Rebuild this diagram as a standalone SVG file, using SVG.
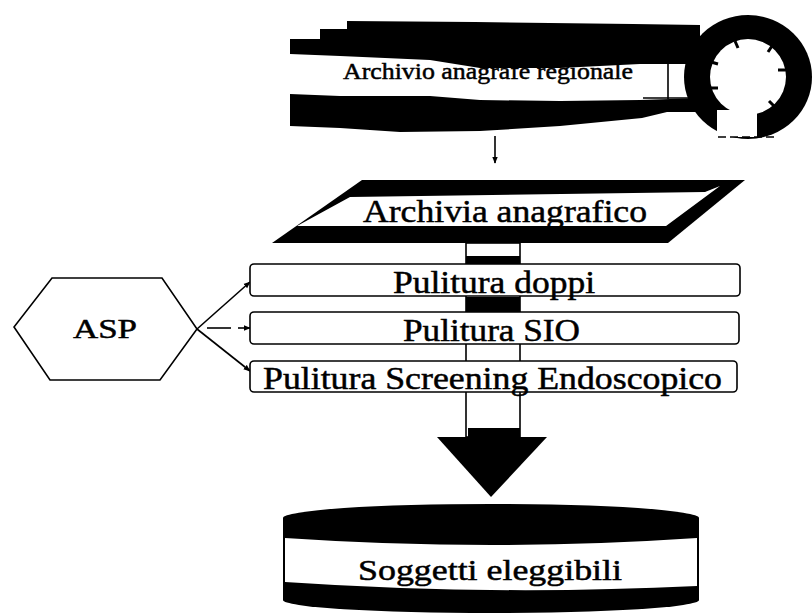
<svg xmlns="http://www.w3.org/2000/svg" width="812" height="614" viewBox="0 0 812 614">
  <style>
    .ink { fill: #000; }
    .paper { fill: #fff; }
    .outline { fill: #fff; stroke: #000; stroke-width: 1.6; }
    .line { fill: none; stroke: #000; stroke-width: 1.6; }
    .label { font-family: "Liberation Serif", "Times New Roman", serif; fill: #000; stroke: #000; stroke-width: 0.5; }
  </style>
  <defs>
    <marker id="tip" viewBox="0 0 10 10" refX="9" refY="5" markerWidth="7" markerHeight="7" orient="auto" markerUnits="userSpaceOnUse">
      <path d="M0,1 L10,5 L0,9 Z" fill="#000"/>
    </marker>
  </defs>
  <rect width="812" height="614" fill="#fff"/>

  <!-- Connectors -->
  <g id="connectors">
    <!-- source archive down to the registry -->
    <line class="line" x1="495" y1="136" x2="495" y2="163" marker-end="url(#tip)"/>
    <!-- ASP feeding the three cleaning steps -->
    <line class="line" x1="197" y1="329" x2="250" y2="282" marker-end="url(#tip)"/>
    <line class="line" x1="207" y1="328" x2="231" y2="328"/>
    <line class="line" x1="238" y1="328" x2="250" y2="328" marker-end="url(#tip)"/>
    <line class="line" x1="197" y1="329" x2="250" y2="371" marker-end="url(#tip)"/>
    <!-- broad flow arrow from the registry to the eligible subjects -->
    <g id="flow-arrow">
      <rect class="outline" x="466" y="243" width="54" height="194"/>
      <rect class="ink" x="466" y="256" width="54" height="8"/>
      <rect class="ink" x="466" y="297" width="54" height="15"/>
      <rect class="ink" x="468" y="428" width="52" height="9"/>
      <path class="ink" d="M437,437 L547,437 L491,497 Z"/>
    </g>
  </g>

  <!-- Regional archive: drum-like storage symbol -->
  <g id="archivio-regionale">
    <path class="ink" d="M290,39 L320,39 L320,29 L347,29 L347,21 L475,22 L633,24 L700,25 L700,112 L667,112 L642,118 L560,126 L480,131 L400,132 L340,128 L290,126 Z"/>
    <path class="paper" d="M290,54 L340,56 L430,60 L480,68 L560,68 L640,64 L700,64 L700,98 L640,100 L560,101 L480,100 L430,96 L340,96 L290,94 Z"/>
    <line class="line" x1="668" y1="64" x2="668" y2="99" stroke-width="2"/>
    <line class="line" x1="643" y1="98" x2="700" y2="98" stroke-width="2"/>
    <ellipse class="ink" cx="748" cy="77" rx="64" ry="62"/>
    <circle class="paper" cx="748" cy="77" r="38"/>
    <rect class="paper" x="717" y="110" width="40" height="27"/>
    <line class="line" x1="718" y1="137" x2="778" y2="137" stroke-dasharray="8 4" stroke-width="1.2"/>
    <g stroke="#000" stroke-width="3">
      <line x1="786" y1="70" x2="778" y2="70"/>
      <line x1="710" y1="88" x2="718" y2="88"/>
      <line x1="772" y1="46" x2="768" y2="52"/>
      <line x1="735" y1="41" x2="738" y2="48"/>
      <line x1="774" y1="106" x2="769" y2="101"/>
      <line x1="711" y1="62" x2="718" y2="64"/>
    </g>
    <text class="label" x="343" y="79" font-size="24" textLength="290" lengthAdjust="spacingAndGlyphs" stroke-width="0.3">Archivio anagrafe regionale</text>
  </g>

  <!-- Personal data registry (parallelogram) -->
  <g id="archivio-anagrafico">
    <path class="ink" d="M362,180 L745,180 L668,243 L272,243 Z"/>
    <path class="paper" d="M350,197 L705,192 L720,186 L666,226 L297,226 Z"/>
    <text class="label" x="363" y="222" font-size="32" textLength="284" lengthAdjust="spacingAndGlyphs">Archivia anagrafico</text>
  </g>

  <!-- ASP hexagon -->
  <g id="asp">
    <path class="outline" d="M52,278 L162,278 L197,329 L160,380 L50,380 L14,327 Z"/>
    <text class="label" x="73" y="338" font-size="28" textLength="64" lengthAdjust="spacingAndGlyphs">ASP</text>
  </g>

  <!-- Cleaning steps -->
  <g id="pulitura-doppi">
    <rect class="outline" x="250" y="264" width="490" height="32" rx="4"/>
    <text class="label" x="393" y="293" font-size="32" textLength="202" lengthAdjust="spacingAndGlyphs">Pulitura doppi</text>
  </g>
  <g id="pulitura-sio">
    <rect class="outline" x="250" y="312" width="489" height="32" rx="4"/>
    <text class="label" x="403" y="341" font-size="32" textLength="177" lengthAdjust="spacingAndGlyphs">Pulitura SIO</text>
  </g>
  <g id="pulitura-screening">
    <rect class="outline" x="250" y="361" width="487" height="31" rx="4"/>
    <text class="label" x="263" y="389" font-size="32" textLength="459" lengthAdjust="spacingAndGlyphs">Pulitura Screening Endoscopico</text>
  </g>

  <!-- Eligible subjects (cylinder store) -->
  <g id="soggetti-eleggibili">
    <path class="ink" d="M283,518 A208,14 0 0 1 699,518 L699,600 A208,13 0 0 1 283,600 Z"/>
    <path class="paper" d="M285,538 Q491,552 697,538 L697,586 Q491,596 285,582 Z"/>
    <text class="label" x="358" y="580" font-size="30" textLength="264" lengthAdjust="spacingAndGlyphs">Soggetti eleggibili</text>
  </g>
</svg>
